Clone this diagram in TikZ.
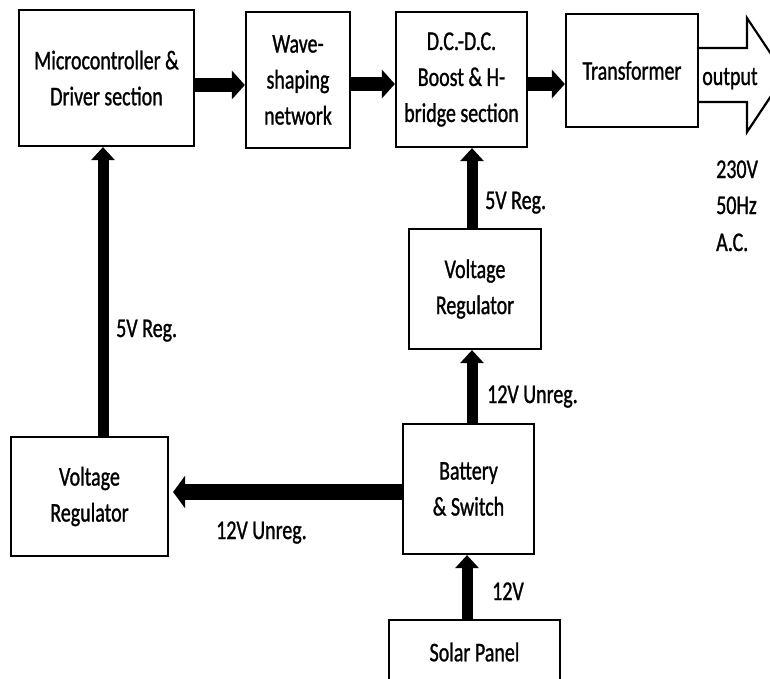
\documentclass[tikz,border=0pt]{standalone}
\usepackage{fontspec}
\setmainfont{Carlito}[FakeStretch=0.74,FakeBold=1]
\usetikzlibrary{arrows.meta,calc}
\begin{document}
\begin{tikzpicture}[x=1pt,y=-1pt,
  txt/.style={font=\fontsize{27}{36}\selectfont},
  box/.style={txt,draw,line width=2.2pt,inner sep=0pt,align=center},
  lbl/.style={txt,inner sep=0pt,anchor=base west},
  harrow/.style={line width=14pt,-{Triangle[width=28pt,length=13pt]}},
  varrow/.style={line width=11pt,-{Triangle[width=23pt,length=13pt]}},
  larrow/.style={line width=16pt,-{Triangle[width=32pt,length=12pt]}}
]
\clip (0,0) rectangle (770,678);
\fill[white] (0,0) rectangle (770,678);

% blocks
\node[box,minimum width=175pt,minimum height=136pt] (micro) at (106.5,78) {Microcontroller \&\\Driver section};
\node[box,minimum width=104pt,minimum height=136pt] (wave) at (298,80) {Wave-\\shaping\\network};
\node[box,minimum width=131pt,minimum height=135pt] (dc) at (461.5,79.5) {D.C.-D.C.\\Boost \& H-\\bridge section};
\node[box,minimum width=132pt,minimum height=113pt] (trans) at (632,70.5) {Transformer};
\node[box,minimum width=132pt,minimum height=120pt] (vr2) at (475,289) {Voltage\\Regulator};
\node[box,minimum width=131pt,minimum height=130pt] (bat) at (468.5,489) {Battery\\\& Switch};
\node[box,minimum width=171pt,minimum height=64pt] (solar) at (474.5,652) {Solar Panel};
\node[box,minimum width=157pt,minimum height=119pt] (vr1) at (89.5,496.5) {Voltage\\Regulator};

% output arrow
\draw[line width=2.2pt,line join=miter] (trans.east |- 0,48) -- (747,48) -- (747,18) -- (785,75) -- (747,132) -- (747,102) -- (trans.east |- 0,102);
\node[txt,inner sep=0pt,anchor=base] (out) at (730,85) {output};

% connectors
\coordinate (m1) at ($(micro.east)+(0,7)$);
\draw[harrow] (m1) -- (m1 -| wave.west);
\coordinate (w1) at ($(wave.east)+(0,4)$);
\draw[harrow] (w1) -- (w1 -| dc.west);
\coordinate (d1) at ($(dc.east)+(0,4.5)$);
\draw[harrow] (d1) -- (d1 -| trans.west);
\coordinate (r1) at ($(vr2.north)+(-3,0)$);
\draw[varrow] (r1) -- (r1 |- dc.south);
\coordinate (r2) at ($(vr2.south)+(-3,0)$);
\draw[varrow] (r2 |- bat.north) -- (r2);
\coordinate (s1) at ($(bat.south)+(-1.5,0)$);
\draw[varrow] (s1 |- solar.north) -- (s1);
\coordinate (b1) at ($(bat.west)+(0,3)$);
\draw[larrow,shorten >=4pt] (b1) -- (b1 -| vr1.east);
\coordinate (v1) at ($(micro.south)+(-3.5,0)$);
\draw[varrow] (v1 |- vr1.north) -- (v1);

% labels
\node[lbl] (l5a) at (485,209) {5V Reg.};
\node[lbl] (l12a) at (487,403) {12V Unreg.};
\node[lbl] (l12b) at (492,600) {12V};
\node[lbl] (l12c) at (216,539) {12V Unreg.};
\node[lbl] (l5b) at (116,337) {5V Reg.};
\node[lbl] (o1) at (716,178) {230V};
\node[lbl] (o2) at (716,214) {50Hz};
\node[lbl] (o3) at (716,251) {A.C.};
\end{tikzpicture}
\end{document}
